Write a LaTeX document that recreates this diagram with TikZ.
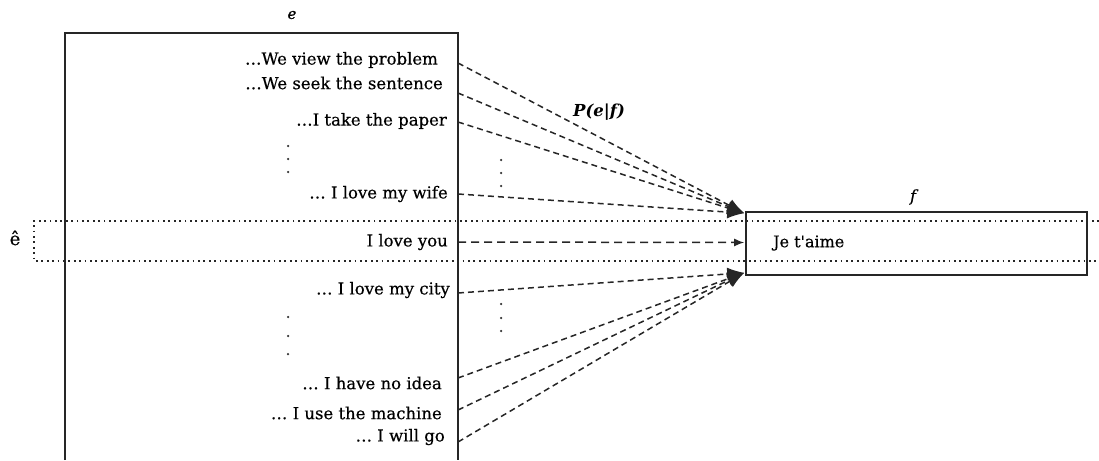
\documentclass[tikz,border=0pt]{standalone}
\usepackage{fontspec}
\setmainfont{DejaVu Serif}
\newfontfamily\sentfont[FakeBold=0.5]{DejaVu Serif}
\usetikzlibrary{arrows.meta,calc}
\tikzset{
  sent/.style={anchor=east, inner sep=0pt, font=\sentfont\fontsize{16.5}{18}\selectfont},
  frame/.style={line width=1.6pt, black!85},
  link/.style={line width=1.5pt, dash pattern=on 6pt off 4pt, black!85, -{Latex[length=17pt,width=13pt]}},
  smalllink/.style={line width=1.5pt, dash pattern=on 8pt off 5pt, black!85, -{Latex[length=10pt,width=8pt]}},
  dotline/.style={line width=1.1pt, dash pattern=on 1.8pt off 3.6pt, black!85},
  vdot/.style={circle, fill=black!80, inner sep=0pt, minimum size=2.5pt},
  lbl/.style={inner sep=0pt}
}
\begin{document}
\begin{tikzpicture}[x=1pt,y=-1pt]
\useasboundingbox (0,0) rectangle (1099,460);
% left box (open at bottom)
\draw[frame] (65,460) -- (65,33) -- (458,33) -- (458,460);
\node[lbl, font=\sentfont\fontsize{15}{16}\selectfont\itshape] (elab) at (292,15) {e};
% sentences
\node[sent] (s1) at (438,60) {\dots We view the problem};
\node[sent] (s2) at (443,83) {\dots We seek the sentence};
\node[sent] (s3) at (447,121) {\dots I take the paper};
\node[sent] (s4) at (448,194) {\dots\ I love my wife};
\node[sent] (s5) at (448,242) {I love you};
\node[sent] (s6) at (450,290) {\dots\ I love my city};
\node[sent] (s7) at (442,383) {\dots\ I have no idea};
\node[sent] (s8) at (442,413) {\dots\ I use the machine};
\node[sent] (s9) at (445,437) {\dots\ I will go};
% vertical dots
\foreach \yy [count=\i] in {146,159,172} \node[vdot] (da\i) at (288,\yy) {};
\foreach \yy [count=\i] in {317,336,354} \node[vdot] (db\i) at (288,\yy) {};
\foreach \yy [count=\i] in {160,173,186} \node[vdot] (dc\i) at (501,\yy) {};
\foreach \yy [count=\i] in {304,318,331} \node[vdot] (dd\i) at (501,\yy) {};
% f box
\node[draw, frame, rectangle, minimum width=341pt, minimum height=63pt, inner sep=0pt] (fbox) at (916.5,243.5) {};
\node[lbl, font=\sentfont\fontsize{16}{18}\selectfont, anchor=west] (jt) at (773,243) {Je t'aime};
\node[lbl, font=\sentfont\fontsize{16}{18}\selectfont\itshape] (flab) at (913,197) {f};
% e-hat dotted band
\draw[dotline] (1099,221) -- (34,221) -- (34,261) -- (1099,261);
\node[lbl, font=\sentfont\fontsize{18}{20}\selectfont] (ehat) at (15,238) {ê};
% start coordinates on left box edge
\coordinate (a1) at (458,63);
\coordinate (a2) at (458,93);
\coordinate (a3) at (458,122);
\coordinate (a4) at (458,194);
\coordinate (a5) at (458,242);
\coordinate (a6) at (458,293);
\coordinate (a7) at (458,378);
\coordinate (a8) at (458,410);
\coordinate (a9) at (458,442);
% targets
\coordinate (tu) at ($(fbox.north west)+(-1,2)$);
\coordinate (tm) at ($(fbox.west)+(-1,-1)$);
\coordinate (tl) at ($(fbox.south west)+(-1,-3)$);
% connectors
\foreach \i in {1,2,3,4} \draw[link] (a\i) -- (tu);
\draw[smalllink] (a5) -- (tm);
\foreach \i in {6,7,8,9} \draw[link] (a\i) -- (tl);
% P(e|f)
\node[lbl, font=\fontsize{16.5}{18}\selectfont\bfseries\itshape] (pef) at (599,112) {P(e|f)};
\end{tikzpicture}
\end{document}
